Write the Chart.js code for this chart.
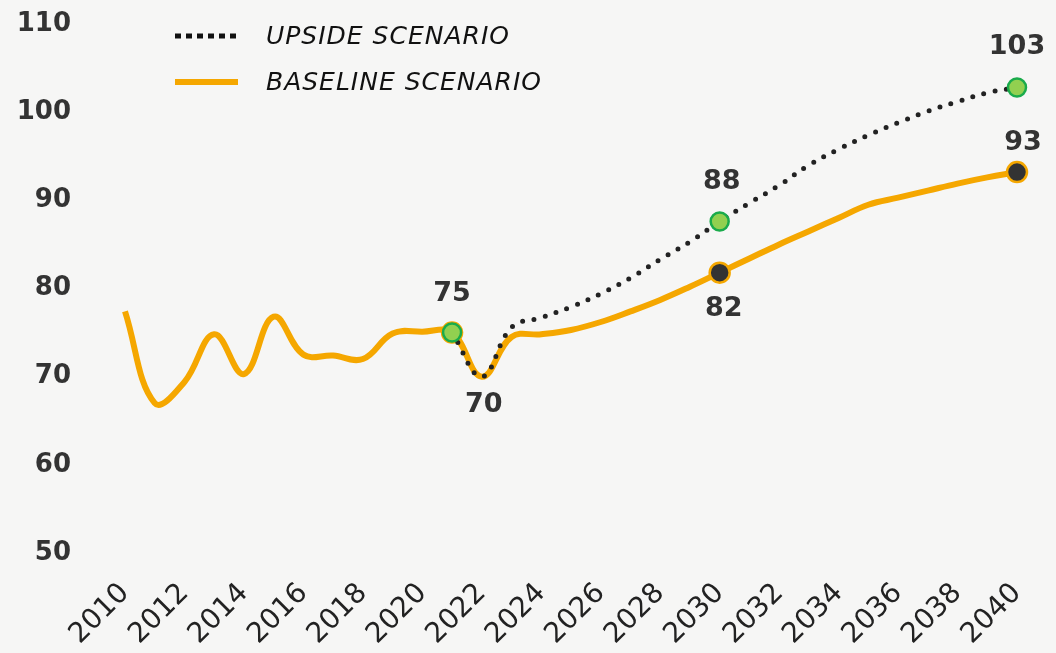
<!DOCTYPE html>
<html>
<head>
<meta charset="utf-8">
<script src="https://cdn.jsdelivr.net/npm/chart.js@4.4.0/dist/chart.umd.min.js"></script>
<style>
  html, body { margin: 0; padding: 0; background: #f6f6f5; }
  #wrap { width: 1056px; height: 653px; position: relative; }
</style>
</head>
<body>
<div id="wrap"><canvas id="chart"></canvas></div>
<script>
// Upside vs baseline scenario, 2010-2040

const years = ['2010', '2011', '2012', '2013', '2014', '2015', '2016', '2017', '2018', '2019',
  '2020', '2021', '2022', '2023', '2024', '2025', '2026', '2027', '2028', '2029',
  '2030', '2031', '2032', '2033', '2034', '2035', '2036', '2037', '2038', '2039', '2040'];

const baseline = [77.4, 67.0, 69.4, 74.8, 70.3, 76.8, 72.5, 72.4, 72.0, 74.9,
  75.1, 75.0, 70.0, 74.5, 74.8, 75.3, 76.2, 77.4, 78.7, 80.2,
  81.8, 83.4, 85.0, 86.5, 88.0, 89.5, 90.3, 91.1, 91.9, 92.6, 93.2];

const upside = [null, null, null, null, null, null, null, null, null, null,
  null, 75.0, 70.0, 75.6, 76.7, 77.9, 79.4, 81.2, 83.3, 85.3,
  87.6, 89.7, 91.7, 94.0, 95.8, 97.4, 98.8, 100.1, 101.2, 102.2, 102.8];

const yTicks = [50, 60, 70, 80, 90, 100, 110];

const seriesNames = ['UPSIDE SCENARIO', 'BASELINE SCENARIO'];

// which points carry a marker
const upsideMarked = ['2021', '2030', '2040'];
const baselineMarked = ['2021', '2030', '2040'];

const ORANGE = '#f5a700';
const GREEN = '#92d050';
const GREEN_DARK = '#1aab4b';
const DARK = '#333333';
const FONT = '"DejaVu Sans", sans-serif';

function radii(marked, r) {
  return years.map(y => marked.includes(y) ? r : 0);
}

// value labels: [datasetIndex, year, dx, dy]
const valueLabels = [
  [0, '2021', 0, -39],
  [1, '2022', 2, 28],
  [0, '2030', 2, -40],
  [1, '2030', 4, 36],
  [0, '2040', 0, -40],
  [1, '2040', 6, -29],
];

const extras = {
  id: 'extras',
  afterDatasetsDraw(chart) {
    const ctx = chart.ctx;
    ctx.save();
    // value labels
    ctx.font = 'bold 27px ' + FONT;
    ctx.fillStyle = DARK;
    ctx.textAlign = 'center';
    ctx.textBaseline = 'middle';
    valueLabels.forEach(([ds, yr, dx, dy]) => {
      const i = years.indexOf(yr);
      const pt = chart.getDatasetMeta(ds).data[i];
      const v = chart.data.datasets[ds].data[i];
      ctx.fillText(String(Math.round(v)), pt.x + dx, pt.y + dy);
    });

    // legend
    ctx.font = 'oblique 25px ' + FONT;
    ctx.letterSpacing = '1px';
    ctx.fillStyle = '#111';
    ctx.textAlign = 'left';
    const rows = [[36, 0], [82, 1]];
    rows.forEach(([y, ds]) => {
      const d = chart.data.datasets[ds];
      ctx.beginPath();
      if (ds === 0) {
        ctx.setLineDash([6, 5]);
        ctx.lineWidth = 5;
        ctx.strokeStyle = '#111';
      } else {
        ctx.setLineDash([]);
        ctx.lineWidth = 6;
        ctx.strokeStyle = ORANGE;
      }
      ctx.moveTo(175, y);
      ctx.lineTo(238, y);
      ctx.stroke();
      ctx.fillText(d.label, 266, y + 1);
    });
    ctx.restore();
  }
};

new Chart(document.getElementById('chart'), {
  type: 'line',
  data: {
    labels: years,
    datasets: [
      {
        label: seriesNames[0],
        data: upside,
        order: 0,
        borderColor: '#222',
        borderWidth: 5,
        borderDash: [0, 11.5],
        borderCapStyle: 'round',
        tension: 0.4,
        pointRadius: radii(upsideMarked, 9),
        pointBackgroundColor: GREEN,
        pointBorderColor: GREEN_DARK,
        pointBorderWidth: 2.5,
      },
      {
        label: seriesNames[1],
        data: baseline,
        order: 1,
        borderColor: ORANGE,
        borderWidth: 6,
        tension: 0.4,
        pointRadius: radii(baselineMarked, 10),
        pointBackgroundColor: years.map(y => y === '2021' ? ORANGE : DARK),
        pointBorderColor: ORANGE,
        pointBorderWidth: 2.5,
      },
    ],
  },
  options: {
    responsive: true,
    maintainAspectRatio: false,
    animation: false,
    events: [],
    layout: { padding: { top: 24, right: 39, left: 0, bottom: 0 } },
    plugins: { legend: { display: false }, tooltip: { enabled: false } },
    scales: {
      x: {
        offset: false,
        grid: { display: false },
        border: { display: false },
        afterFit: s => {
          s.height = 100;
          s.paddingTop = 0; s.paddingBottom = 0;
          s.paddingLeft = 0; s.paddingRight = 0;
        },
        ticks: {
          autoSkip: false,
          maxRotation: 45,
          minRotation: 45,
          padding: 16,
          color: '#222',
          font: { family: FONT, size: 28 },
          callback: (v, i) => (i % 2 === 0 ? years[i] : ''),
        },
      },
      y: {
        min: yTicks[0],
        max: yTicks[yTicks.length - 1],
        grid: { display: false },
        border: { display: false },
        afterFit: s => { s.width = 125; s.paddingTop = 0; s.paddingBottom = 0; },
        afterBuildTicks: s => { s.ticks = yTicks.map(v => ({ value: v })); },
        ticks: {
          padding: 46,
          color: DARK,
          font: { family: FONT, size: 26, weight: 'bold' },
        },
      },
    },
  },
  plugins: [extras],
});
</script>
</body>
</html>
